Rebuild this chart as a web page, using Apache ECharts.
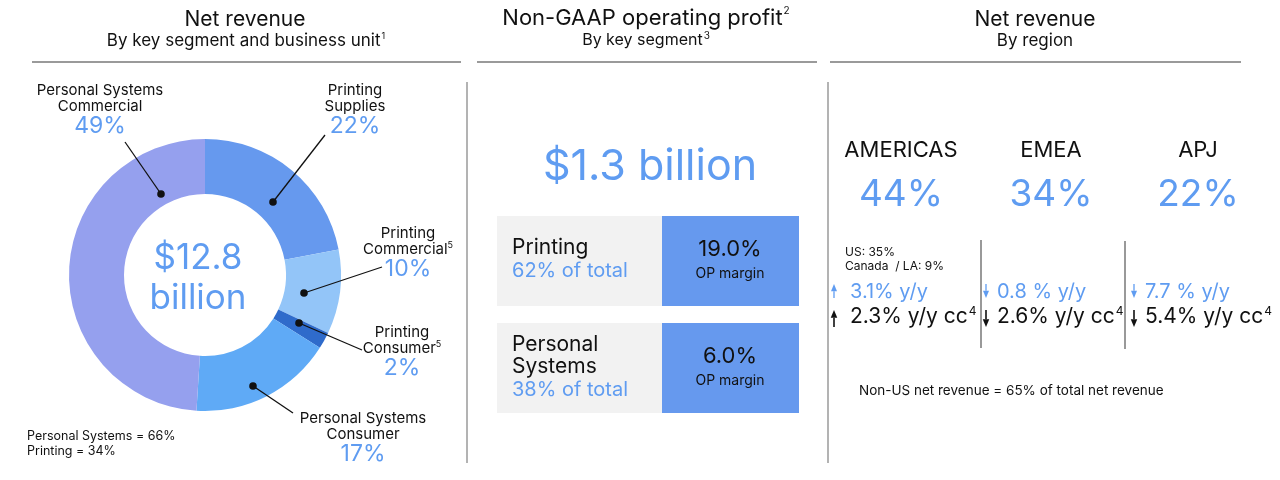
<!DOCTYPE html>
<html>
<head>
<meta charset="utf-8">
<script src="https://cdn.jsdelivr.net/npm/echarts@6/dist/echarts.min.js"></script>
<style>html,body{margin:0;padding:0;background:#fff;}#c{width:1280px;height:480px;}</style>
</head>
<body>
<div id="c"></div>
<script>
// ---------- DATA ----------
const segNames = ['Printing Supplies', 'Printing Commercial', 'Printing Consumer', 'Personal Systems Consumer', 'Personal Systems Commercial'];
const segLines = [['Printing', 'Supplies'], ['Printing', 'Commercial'], ['Printing', 'Consumer'], ['Personal Systems', 'Consumer'], ['Personal Systems', 'Commercial']];
const segNotes = ['', '5', '5', '', ''];
const segValues = [22, 10, 2, 17, 49];
const segGroup = ['Printing', 'Printing', 'Printing', 'Personal Systems', 'Personal Systems'];
const totalRevenue = 12.8;

const opTotal = 1.3;
const opSegments = [['Printing'], ['Personal', 'Systems']];
const opShare = [62, 38];
const opMargin = [19.0, 6.0];

const regions = ['AMERICAS', 'EMEA', 'APJ'];
const regionShare = [44, 34, 22];
const regionYoY = [3.1, -0.8, -7.7];
const regionYoYcc = [2.3, -2.6, -5.4];
const usShare = 35;
const canadaLaShare = 9;

// ---------- STYLE / LAYOUT ----------
const FONT = 'Inter, "Noto Sans", sans-serif';
const BLACK = '#111111';
const BLUE = '#5f9cf1';
const GRAY_LINE = '#9a9a9a';
const segColors = ['#6699ee', '#93c5f8', '#2f6bcb', '#5faaf6', '#95a0ee'];
const pieCenter = [205, 275];
// label anchor (center-top), leader line end, dot position
const labelAnchor = [[355, 82], [408, 225], [402, 324], [363, 410], [100, 82]];
const lineEnd = [[325, 135], [382, 267], [362, 350], [293, 413], [125, 142]];
const dotPos = [[273, 202], [304, 293], [299, 323], [253, 386], [161, 194]];

const chart = echarts.init(document.getElementById('c'), null, {renderer: 'canvas'});

function txt(x, y, text, size, color, align, extra) {
  return {
    type: 'text', x: x, y: y, silent: true,
    style: Object.assign({
      text: text, fill: color || BLACK, align: align || 'center', verticalAlign: 'middle',
      fontFamily: FONT, fontSize: size
    }, extra || {})
  };
}
function richTxt(x, y, text, rich, align) {
  return {
    type: 'text', x: x, y: y, silent: true,
    style: {text: text, rich: rich, align: align || 'center', verticalAlign: 'middle', fontFamily: FONT}
  };
}
function line(x1, y1, x2, y2, w, c) {
  return {type: 'line', silent: true, shape: {x1: x1, y1: y1, x2: x2, y2: y2}, style: {stroke: c || GRAY_LINE, lineWidth: w || 2}};
}
function supRich(size, supSize) {
  return {
    n: {fontFamily: FONT, fontSize: size, fill: BLACK, color: BLACK, lineHeight: size + 2},
    s: {fontFamily: FONT, fontSize: supSize, fill: BLACK, color: BLACK, verticalAlign: 'top', lineHeight: size + 2, padding: [0, 0, 0, 1]}
  };
}
function arrow(x, yTop, yBot, up, color, w, head) {
  const tipY = up ? yTop : yBot;
  const baseY = up ? yTop + head * 1.2 : yBot - head * 1.2;
  return [
    {type: 'line', silent: true, shape: {x1: x, y1: up ? baseY : yTop, x2: x, y2: up ? yBot : baseY}, style: {stroke: color, lineWidth: w}},
    {type: 'polygon', silent: true, shape: {points: [[x - head / 2, baseY], [x + head / 2, baseY], [x, tipY]]}, style: {fill: color}}
  ];
}

const graphics = [];
// ---- Section 1 ----
graphics.push(txt(245, 20, 'Net revenue', 21, BLACK));
graphics.push(richTxt(246, 41, '{n|By key segment and business unit}{s|1}', supRich(17, 9)));
graphics.push(line(32, 62, 461, 62, 2));
graphics.push(line(467, 82, 467, 463, 1.5));
graphics.push(txt(198, 258, '$' + totalRevenue.toFixed(1), 35, BLUE));
graphics.push(txt(198, 298, 'billion', 35, BLUE));
const psTotal = segValues.filter((v, i) => segGroup[i] === 'Personal Systems').reduce((a, b) => a + b, 0);
const prTotal = segValues.filter((v, i) => segGroup[i] === 'Printing').reduce((a, b) => a + b, 0);
graphics.push(txt(27, 436, 'Personal Systems = ' + psTotal + '%', 12.5, BLACK, 'left'));
graphics.push(txt(27, 451, 'Printing = ' + prTotal + '%', 12.5, BLACK, 'left'));
dotPos.forEach((p, i) => {
  graphics.push({type: 'line', silent: true, z: 10, shape: {x1: p[0], y1: p[1], x2: lineEnd[i][0], y2: lineEnd[i][1]}, style: {stroke: BLACK, lineWidth: 1.3}});
  graphics.push({type: 'circle', silent: true, z: 11, shape: {cx: p[0], cy: p[1], r: 3.8}, style: {fill: BLACK}});
});

// ---- Section 2 ----
graphics.push(richTxt(646, 18, '{n|Non-GAAP operating profit}{s|2}', supRich(22, 10)));
graphics.push(richTxt(646, 40, '{n|By key segment}{s|3}', supRich(16, 10)));
graphics.push(line(477, 62, 817, 62, 2));
graphics.push(line(828, 82, 828, 463, 1.5));
graphics.push(txt(650, 167, '$' + opTotal.toFixed(1) + ' billion', 43, BLUE));
const boxTop = [216, 323];
opSegments.forEach((seg, i) => {
  const t = boxTop[i];
  graphics.push({type: 'rect', silent: true, shape: {x: 497, y: t, width: 165, height: 90}, style: {fill: '#f2f2f2'}});
  graphics.push({type: 'rect', silent: true, shape: {x: 662, y: t, width: 137, height: 90}, style: {fill: '#6699ee'}});
  const lines = seg.length;
  const startY = i === 0 ? 248 : 345;
  seg.forEach((s, k) => graphics.push(txt(512, startY + k * 22, s, 21, BLACK, 'left')));
  graphics.push(txt(512, startY + lines * 22 + 1, opShare[i] + '% of total', 20, BLUE, 'left'));
  const my = i === 0 ? 249 : 356;
  graphics.push(txt(730, my, opMargin[i].toFixed(1) + '%', 22, BLACK));
  graphics.push(txt(730, my + 25, 'OP margin', 14, BLACK));
});

// ---- Section 3 ----
graphics.push(txt(1035, 20, 'Net revenue', 21, BLACK));
graphics.push(txt(1035, 41, 'By region', 17, BLACK));
graphics.push(line(830, 62, 1241, 62, 2));
const regX = [901, 1051, 1198];
const arrowX = [834, 986, 1134];
const textX = [850, 997, 1145];
regions.forEach((r, i) => {
  graphics.push(txt(regX[i], 150, r, 22, BLACK));
  graphics.push(txt(regX[i], 195, regionShare[i] + '%', 37, BLUE));
  const up = regionYoY[i] >= 0, upc = regionYoYcc[i] >= 0;
  arrow(arrowX[i], 284, 298, up, BLUE, 1.3, 6).forEach(g => graphics.push(g));
  graphics.push(txt(textX[i], 292, Math.abs(regionYoY[i]).toFixed(1) + (i === 0 ? '%' : ' %') + ' y/y', 20, BLUE, 'left'));
  arrow(arrowX[i], 310, 327, upc, BLACK, 1.6, 6.5).forEach(g => graphics.push(g));
  graphics.push(richTxt(textX[i], 317, '{n|' + Math.abs(regionYoYcc[i]).toFixed(1) + '% y/y cc}{s|4}', supRich(21, 12), 'left'));
});
graphics.push(line(981, 240, 981, 348, 1.5, '#777'));
graphics.push(line(1125, 241, 1125, 349, 1.5, '#777'));
graphics.push(txt(845, 252, 'US: ' + usShare + '%', 12, BLACK, 'left'));
graphics.push(txt(845, 266, 'Canada  / LA: ' + canadaLaShare + '%', 12, BLACK, 'left'));
graphics.push(txt(859, 391, 'Non-US net revenue = ' + (100 - usShare) + '% of total net revenue', 13.5, BLACK, 'left'));

const option = {
  animation: false,
  backgroundColor: '#ffffff',
  series: [{
    type: 'pie',
    center: pieCenter,
    radius: [81, 136],
    startAngle: 90,
    clockwise: true,
    silent: true,
    data: segNames.map((n, i) => ({name: n, value: segValues[i], itemStyle: {color: segColors[i]}})),
    label: {
      show: true,
      fontFamily: FONT,
      overflow: 'none',
      formatter: function (p) {
        const i = p.dataIndex;
        const ls = segLines[i];
        let s = '{n|' + ls[0] + '}\n{n|' + ls[1] + '}';
        if (segNotes[i]) s += '{s|' + segNotes[i] + '}';
        return s + '\n{p|' + p.value + '%}';
      },
      rich: {
        n: {fontFamily: FONT, fontSize: 15, color: BLACK, lineHeight: 16},
        s: {fontFamily: FONT, fontSize: 9, color: BLACK, lineHeight: 16, verticalAlign: 'top'},
        p: {fontFamily: FONT, fontSize: 23, color: BLUE, lineHeight: 25}
      },
      align: 'center'
    },
    labelLine: {show: false},
    labelLayout: function (params) {
      const i = params.dataIndex;
      return {
        x: labelAnchor[i][0], y: labelAnchor[i][1],
        align: 'center', verticalAlign: 'top', width: 200
      };
    }
  }],
  graphic: graphics
};
chart.setOption(option);
</script>
</body>
</html>
